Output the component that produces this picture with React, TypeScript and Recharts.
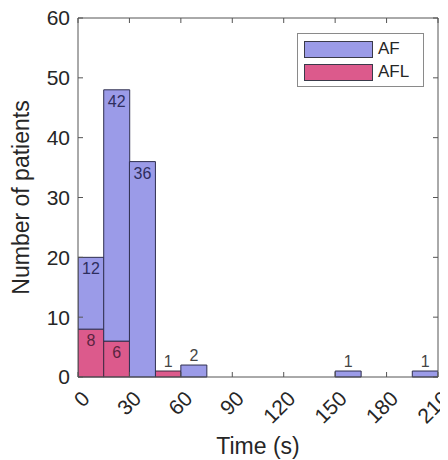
import React from 'react';
import { BarChart, Bar, XAxis, YAxis, LabelList, Legend, Label } from 'recharts';

const binCenters = [7.5, 22.5, 37.5, 52.5, 67.5, 82.5, 97.5, 112.5, 127.5, 142.5, 157.5, 172.5, 187.5, 202.5];
const afCounts = [12, 42, 36, 0, 2, 0, 0, 0, 0, 0, 1, 0, 0, 1];
const aflCounts = [8, 6, 0, 1, 0, 0, 0, 0, 0, 0, 0, 0, 0, 0];
const timeTicks = [0, 30, 60, 90, 120, 150, 180, 210];
const countTicks = [0, 10, 20, 30, 40, 50, 60];
const seriesNames = ['AF', 'AFL'];
const seriesColors = ['#9b9be8', '#dc5a8c'];

const data = binCenters.map((c, i) => ({ t: c, AF: afCounts[i], AFL: aflCounts[i] }));

const FONT = '"Liberation Sans", Arial, Helvetica, sans-serif';
const TEXT = '#262626';
const AXIS = '#555555';

const TimeTick = (props: any) => {
  const { x, y, payload } = props;
  return (
    <text
      transform={`translate(${x + 13},${y + 23}) rotate(-45)`}
      textAnchor="end"
      fontSize={21}
      fill={TEXT}
      fontFamily={FONT}
    >
      {payload.value}
    </text>
  );
};

const EmptyTick = () => <g />;

const makeLabel = (insideColor: string) => (props: any) => {
  const { x, y, width, value } = props;
  const v = Number(value);
  if (!v) return null;
  const inside = v >= 5;
  return (
    <text
      x={Number(x) + Number(width) / 2}
      y={inside ? Number(y) + 17 : Number(y) - 4}
      textAnchor="middle"
      fontSize={16}
      fontFamily={FONT}
      fill={inside ? insideColor : '#454545'}
    >
      {v}
    </text>
  );
};

const LegendBox = () => (
  <div
    style={{
      width: 127,
      height: 54,
      boxSizing: 'border-box',
      border: '1px solid #8a8a8a',
      background: '#fff',
      fontFamily: FONT,
      fontSize: 17,
      color: TEXT,
      position: 'relative',
    }}
  >
    {seriesNames.map((n, i) => (
      <div
        key={n}
        style={{ position: 'absolute', left: 6, top: 6 + i * 23, height: 18, display: 'flex', alignItems: 'center' }}
      >
        <div
          style={{
            width: 69,
            height: 17,
            boxSizing: 'border-box',
            background: seriesColors[i],
            border: '1px solid #3a3a4a',
          }}
        />
        <span style={{ marginLeft: 5, lineHeight: '18px' }}>{n}</span>
      </div>
    ))}
  </div>
);

const YTitle = (props: any) => {
  const { viewBox } = props;
  const cy = viewBox.y + viewBox.height / 2;
  return (
    <text
      transform={`translate(${21},${cy}) rotate(-90)`}
      textAnchor="middle"
      fontSize={23}
      fontFamily={FONT}
      fill={TEXT}
    >
      Number of patients
    </text>
  );
};

const XTitle = (props: any) => {
  const { viewBox } = props;
  return (
    <text
      x={viewBox.x + viewBox.width / 2}
      y={viewBox.y + 77}
      textAnchor="middle"
      fontSize={23}
      fontFamily={FONT}
      fill={TEXT}
    >
      Time (s)
    </text>
  );
};

export default function App() {
  return (
    <div style={{ width: 440, height: 452, background: '#fff' }}>
      <BarChart
        width={440}
        height={452}
        data={data}
        margin={{ top: 9, right: 9, left: 0, bottom: 0 }}
        barCategoryGap={0}
        barGap={0}
      >
        <XAxis
          xAxisId="t"
          dataKey="t"
          type="number"
          domain={[0, 210]}
          ticks={timeTicks}
          allowDataOverflow
          height={83}
          tickSize={-5}
          tickMargin={5}
          tick={<TimeTick />}
          stroke={AXIS}
          interval={0}
        >
          <Label content={<XTitle />} />
        </XAxis>
        <XAxis
          xAxisId="top"
          dataKey="t"
          orientation="top"
          type="number"
          domain={[0, 210]}
          ticks={timeTicks}
          allowDataOverflow
          height={1}
          tickSize={-5}
          tick={<EmptyTick />}
          stroke={AXIS}
          interval={0}
        />
        <YAxis
          yAxisId="l"
          type="number"
          domain={[0, 60]}
          ticks={countTicks}
          width={70}
          tickSize={-5}
          tickMargin={13}
          tick={{ fontSize: 21, fill: TEXT, fontFamily: FONT }}
          stroke={AXIS}
          interval={0}
        >
          <Label content={<YTitle />} />
        </YAxis>
        <YAxis
          yAxisId="r"
          orientation="right"
          type="number"
          domain={[0, 60]}
          ticks={countTicks}
          width={1}
          tickSize={-5}
          tick={<EmptyTick />}
          stroke={AXIS}
          interval={0}
        />
        <Legend
          layout="vertical"
          align="center"
          verticalAlign="middle"
          content={<LegendBox />}
          wrapperStyle={{ position: 'absolute', left: 289, top: 25, width: 127, height: 54 }}
        />
        <Bar
          dataKey="AF"
          xAxisId="top"
          yAxisId="r"
          fill="none"
          stroke="none"
          legendType="none"
          isAnimationActive={false}
        />
        <Bar
          dataKey="AFL"
          name={seriesNames[1]}
          stackId="s"
          xAxisId="t"
          yAxisId="l"
          fill={seriesColors[1]}
          stroke="#3a2a40"
          strokeWidth={1}
          isAnimationActive={false}
        >
          <LabelList dataKey="AFL" content={makeLabel('#5a2440')} />
        </Bar>
        <Bar
          dataKey="AF"
          name={seriesNames[0]}
          stackId="s"
          xAxisId="t"
          yAxisId="l"
          fill={seriesColors[0]}
          stroke="#2f2f4f"
          strokeWidth={1}
          isAnimationActive={false}
        >
          <LabelList dataKey="AF" content={makeLabel('#2e2e5e')} />
        </Bar>
      </BarChart>
    </div>
  );
}
